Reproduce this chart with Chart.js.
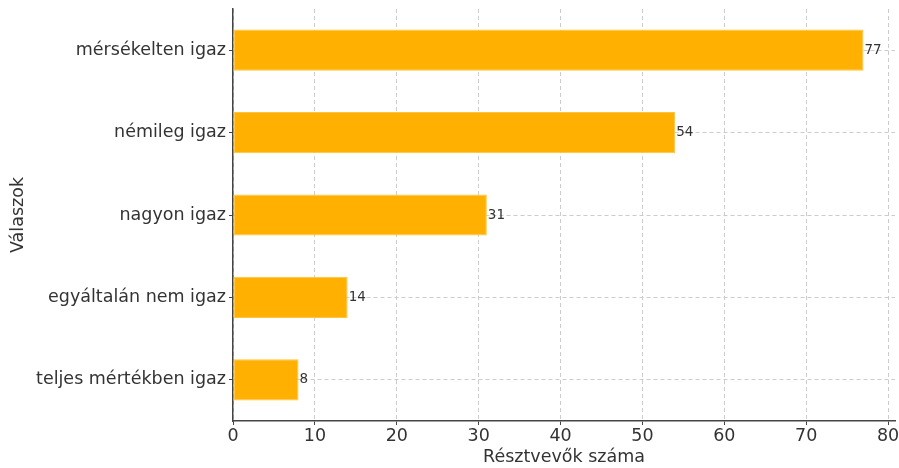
<!DOCTYPE html>
<html>
<head>
<meta charset="utf-8">
<script src="https://cdn.jsdelivr.net/npm/chart.js@4"></script>
<style>
  body { margin: 0; background: #fff; }
  canvas { display: block; }
</style>
</head>
<body>
<canvas id="chart" width="899" height="468"></canvas>
<script>
// data
let answers = ['mérsékelten igaz', 'némileg igaz', 'nagyon igaz', 'egyáltalán nem igaz', 'teljes mértékben igaz'];
let counts = [77, 54, 31, 14, 8];
let xTicks = [0, 10, 20, 30, 40, 50, 60, 70, 80];

let textColor = '#333333';
let gridColor = '#cccccc';
let font = 'DejaVu Sans';

// draws the number at the end of each bar
let barLabels = {
  id: 'barLabels',
  afterDatasetsDraw(chart) {
    let ctx = chart.ctx;
    let meta = chart.getDatasetMeta(0);
    ctx.save();
    ctx.font = '13.5px ' + font;
    ctx.fillStyle = textColor;
    ctx.textAlign = 'left';
    ctx.textBaseline = 'middle';
    meta.data.forEach((bar, i) => {
      ctx.fillText(counts[i], bar.x + 1, bar.y);
    });
    ctx.restore();
  }
};

new Chart(document.getElementById('chart'), {
  type: 'bar',
  data: {
    labels: answers,
    datasets: [{
      data: counts,
      backgroundColor: '#FFB000',
      borderColor: '#FFC43D',
      borderWidth: 1,
      borderSkipped: false,
      barPercentage: 0.5,
      categoryPercentage: 1
    }]
  },
  options: {
    indexAxis: 'y',
    responsive: false,
    animation: false,
    layout: { padding: { top: 9, right: 4, left: 0, bottom: 0 } },
    plugins: {
      legend: { display: false },
      tooltip: { enabled: false }
    },
    scales: {
      x: {
        min: 0,
        max: 80.85,
        z: 1,
        afterBuildTicks(scale) {
          scale.ticks = xTicks.map(v => ({ value: v }));
        },
        afterFit(scale) {
          scale.height = 47;
          scale.paddingLeft = 0;
          scale.paddingRight = 0;
        },
        border: { display: true, color: '#444', width: 1.5, dash: [4, 3] },
        grid: {
          color: gridColor,
          tickLength: 4,
          tickColor: '#444',
          tickBorderDash: []
        },
        ticks: {
          color: textColor,
          font: { family: font, size: 17.5 },
          padding: 1,
          maxRotation: 0
        },
        title: {
          display: true,
          text: 'Résztvevők száma',
          color: textColor,
          font: { family: font, size: 17.5 },
          padding: { top: 0, bottom: 0 }
        }
      },
      y: {
        z: 1,
        afterFit(scale) {
          scale.width = 233;
          scale.paddingTop = 0;
          scale.paddingBottom = 0;
        },
        border: { display: true, color: '#444', width: 1.5, dash: [4, 3] },
        grid: {
          offset: false,
          color: gridColor,
          tickLength: 4,
          tickColor: '#444',
          tickBorderDash: []
        },
        ticks: {
          color: textColor,
          font: { family: font, size: 17.5 },
          padding: 3
        },
        title: {
          display: true,
          text: 'Válaszok',
          color: textColor,
          font: { family: font, size: 17.5 },
          padding: { top: 8, bottom: 0 }
        }
      }
    }
  },
  plugins: [barLabels]
});
</script>
</body>
</html>
